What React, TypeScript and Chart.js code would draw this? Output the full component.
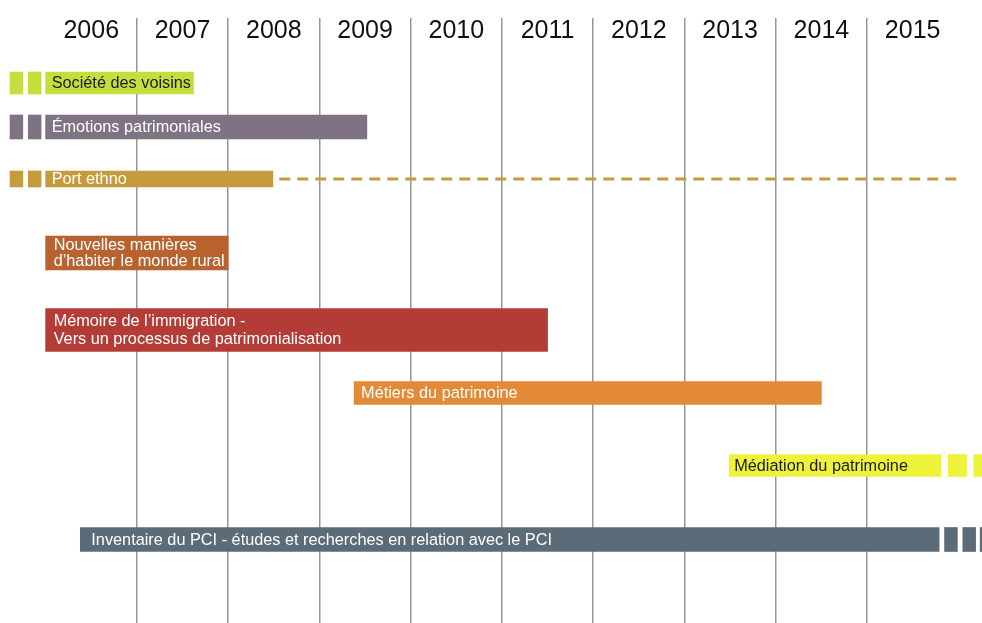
import { useEffect, useRef } from 'react';
import { Chart, registerables } from 'chart.js';

Chart.register(...registerables);

// ---------- data ----------
const yearLabels = ['2006', '2007', '2008', '2009', '2010', '2011', '2012', '2013', '2014', '2015'];
const firstYear = 2006;
const gridYears = [2007, 2008, 2009, 2010, 2011, 2012, 2013, 2014, 2015];

const projectLines: string[][] = [
  ['Société des voisins'],
  ['Émotions patrimoniales'],
  ['Port ethno'],
  ['Nouvelles manières', 'd\u2019habiter le monde rural'],
  ['Mémoire de l\u2019immigration -', 'Vers un processus de patrimonialisation'],
  ['Métiers du patrimoine'],
  ['Médiation du patrimoine'],
  ['Inventaire du PCI - études et recherches en relation avec le PCI'],
];
const projectStart = [2006.0, 2006.0, 2006.0, 2006.0, 2006.0, 2009.38, 2013.49, 2006.38];
const projectEnd = [2007.62, 2009.52, 2008.49, 2008.0, 2011.5, 2014.5, 2015.81, 2015.79];
// vertical lane position of each project (row units)
const projectLane = [1.3, 2.18, 3.22, 4.7, 6.24, 7.5, 8.95, 10.43];

// continuation marks (earlier / later periods) per project
const leftMarks: number[][][] = [
  [[2005.61, 2005.75], [2005.81, 2005.95]],
  [[2005.61, 2005.75], [2005.81, 2005.95]],
  [[2005.61, 2005.75], [2005.81, 2005.95]],
  [],
  [],
  [],
  [],
  [],
];
const rightMarks: number[][][] = [
  [],
  [],
  [],
  [],
  [],
  [],
  [[2015.89, 2016.09], [2016.17, 2016.4]],
  [[2015.85, 2015.99], [2016.05, 2016.19], [2016.24, 2016.4]],
];

// dashed prolongation of "Port ethno"
const dashedRow = 2;
const dashedFrom = 2008.56;
const dashedTo = 2016.0;

// ---------- styles ----------
const barColors = ['#c6dd3e', '#7f7282', '#c69b3d', '#b8622f', '#b33d36', '#e38a36', '#eef23b', '#5b6b78'];
const textColors = ['#1c1c1c', '#ffffff', '#ffffff', '#ffffff', '#ffffff', '#ffffff', '#1c1c1c', '#ffffff'];
const barThickness = [22, 24, 16, 34, 43, 23, 22, 24];
const textPad = [6, 6, 6, 8, 8, 7, 5, 11];
const lineGap = [0, 0, 0, 15.5, 18, 0, 0, 0];
const FONT = '"Liberation Sans", Arial, Helvetica, sans-serif';

const yearLabelPlugin = {
  id: 'yearLabels',
  afterDraw(chart: any) {
    const ctx = chart.ctx;
    const xs = chart.scales.x;
    ctx.save();
    ctx.font = `25px ${FONT}`;
    ctx.fillStyle = '#111111';
    ctx.textAlign = 'center';
    ctx.textBaseline = 'alphabetic';
    yearLabels.forEach((lab, k) => {
      const px = xs.getPixelForValue(firstYear + k + 0.5);
      ctx.fillText(lab, px, chart.chartArea.top + 20.3);
    });
    ctx.restore();
  },
};

const barTextPlugin = {
  id: 'barText',
  afterDatasetsDraw(chart: any) {
    const ctx = chart.ctx;
    ctx.save();
    ctx.font = `16.3px ${FONT}`;
    ctx.textAlign = 'left';
    ctx.textBaseline = 'alphabetic';
    projectLines.forEach((lines, i) => {
      const meta = chart.getDatasetMeta(i);
      const el = meta.data[leftMarks[i].length];
      if (!el) return;
      const p = el.getProps(['x', 'base', 'y'], true);
      const left = Math.min(p.x, p.base);
      const n = lines.length;
      const b0 = p.y - ((n - 1) * lineGap[i]) / 2 + 5.2;
      ctx.fillStyle = textColors[i];
      lines.forEach((t, j) => {
        ctx.fillText(t, left + textPad[i], b0 + j * lineGap[i]);
      });
    });
    ctx.restore();
  },
};

export default function App() {
  const ref = useRef<HTMLCanvasElement | null>(null);

  useEffect(() => {
    if (!ref.current) return;
    const barSets: any[] = projectLines.map((_, i) => {
      const lane = projectLane[i];
      const segs = [
        ...leftMarks[i],
        [projectStart[i], projectEnd[i]],
        ...rightMarks[i],
      ];
      return {
        type: 'bar',
        indexAxis: 'y',
        label: projectLines[i].join(' '),
        data: segs.map((s) => ({ x: [s[0], s[1]], y: lane })),
        backgroundColor: barColors[i],
        borderWidth: 0,
        borderSkipped: false,
        barThickness: barThickness[i],
        grouped: false,
      };
    });
    const dashSet: any = {
      type: 'line',
      indexAxis: 'x',
      label: 'Port ethno (suite)',
      data: [
        { x: dashedFrom, y: projectLane[dashedRow] },
        { x: dashedTo, y: projectLane[dashedRow] },
      ],
      borderColor: barColors[dashedRow],
      borderWidth: 3,
      borderDash: [11, 7],
      borderCapStyle: 'butt',
      pointRadius: 0,
      fill: false,
      tension: 0,
    };

    const chart = new Chart(ref.current, {
      type: 'bar',
      data: { datasets: [...barSets, dashSet] },
      options: {
        indexAxis: 'y',
        animation: false,
        responsive: true,
        maintainAspectRatio: false,
        events: [],
        layout: { padding: { top: 18, left: 0, right: 0, bottom: 0 } },
        plugins: {
          legend: { display: false },
          tooltip: { enabled: false },
          title: { display: false },
        },
        scales: {
          x: {
            type: 'linear',
            position: 'bottom',
            min: 2005.5,
            max: 2016.26,
            offset: false,
            afterBuildTicks: (s: any) => {
              s.ticks = gridYears.map((v) => ({ value: v }));
            },
            ticks: { display: false },
            grid: { color: '#969696', lineWidth: 1.5, drawTicks: false, offset: false },
            border: { display: false },
          },
          y: {
            type: 'linear',
            min: 0,
            max: 12.1,
            reverse: true,
            offset: false,
            grid: { offset: false },
            display: false,
          },
        },
      } as any,
      plugins: [yearLabelPlugin, barTextPlugin],
    } as any);
    return () => chart.destroy();
  }, []);

  return (
    <div style={{ position: 'absolute', left: 0, top: 0, width: 982, height: 623, background: '#ffffff' }}>
      <canvas ref={ref} />
    </div>
  );
}
